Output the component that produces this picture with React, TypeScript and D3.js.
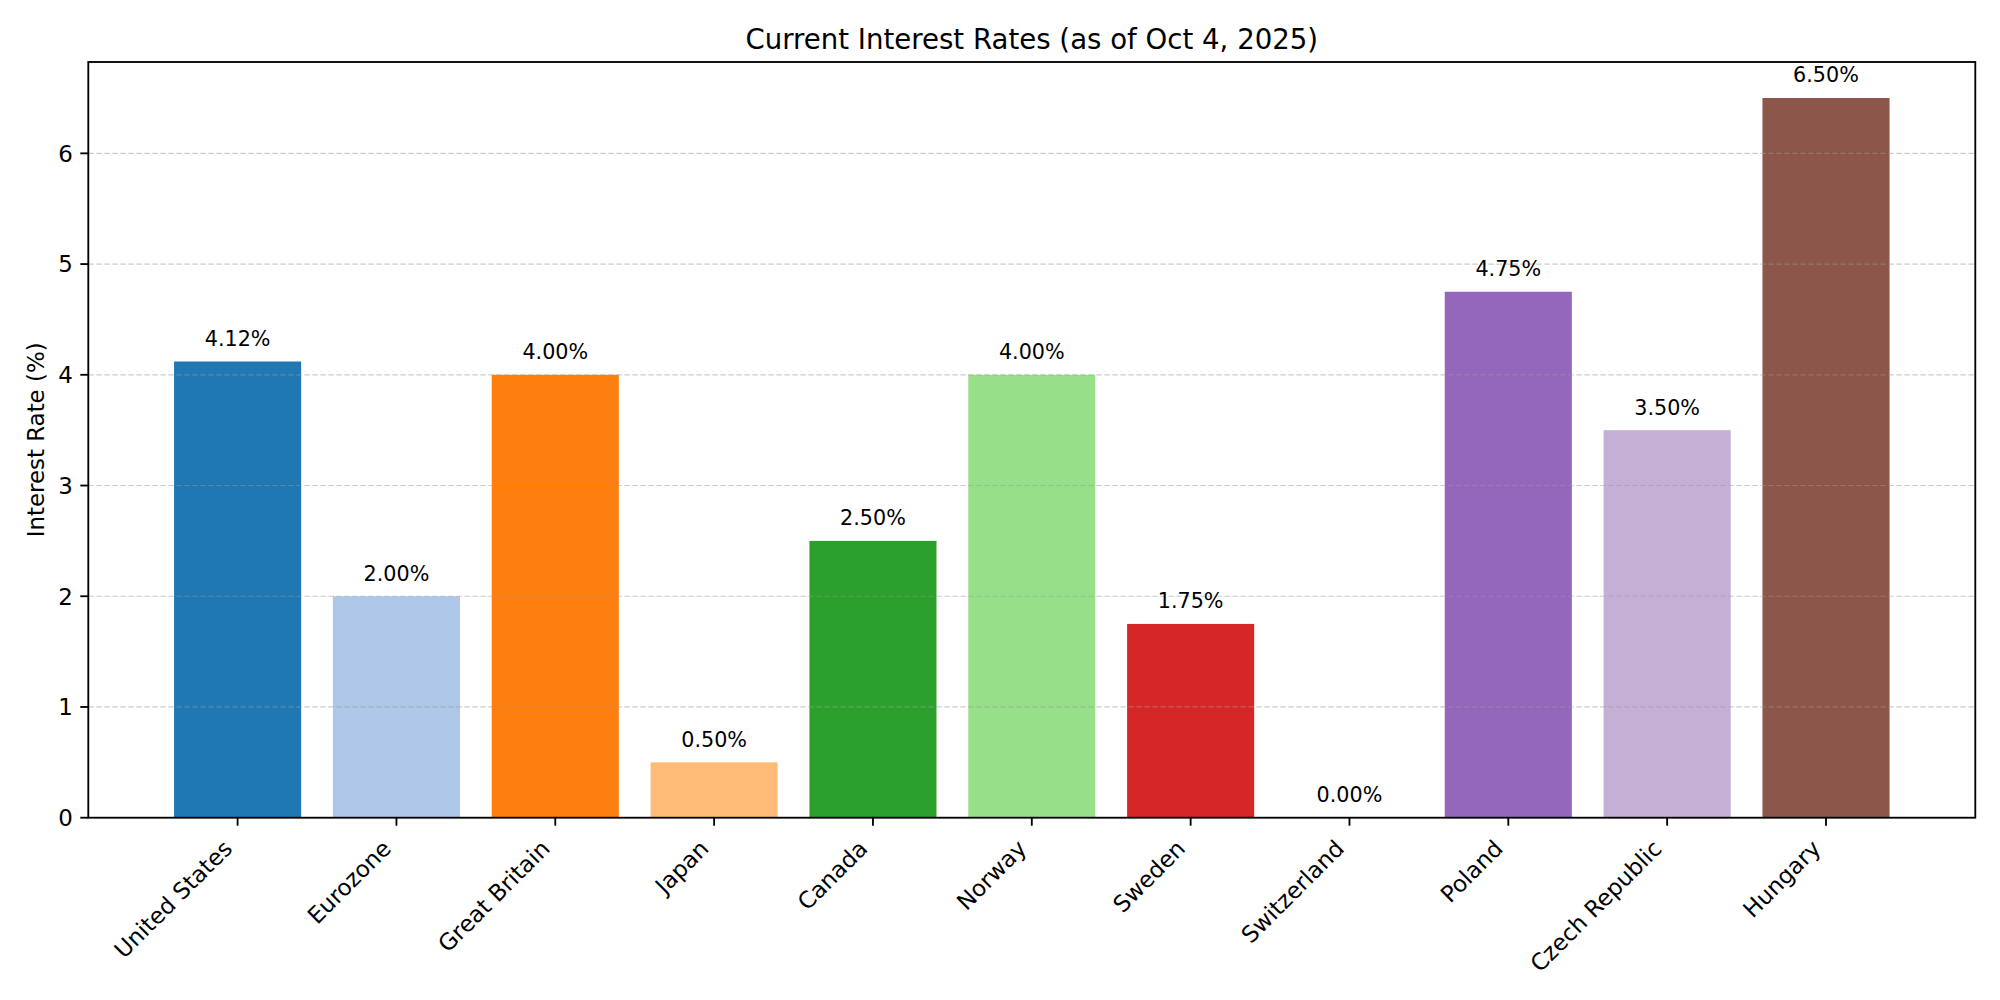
import React from "react";
import * as d3 from "d3";

const countries = [
  "United States", "Eurozone", "Great Britain", "Japan", "Canada", "Norway",
  "Sweden", "Switzerland", "Poland", "Czech Republic", "Hungary",
];
const rates = [4.12, 2.0, 4.0, 0.5, 2.5, 4.0, 1.75, 0.0, 4.75, 3.5, 6.5];
const barColors = [
  "#1f77b4", "#aec7e8", "#ff7f0e", "#ffbb78", "#2ca02c", "#98df8a",
  "#d62728", "#ff9896", "#9467bd", "#c5b0d5", "#8c564b",
];
const yTicks = [0, 1, 2, 3, 4, 5, 6];
const title = "Current Interest Rates (as of Oct 4, 2025)";
const yLabel = "Interest Rate (%)";

const W = 2000, H = 1000;
const L = 88.3, R = 1975.3, T = 62, B = 817.7;
const FONT = "'DejaVu Sans', sans-serif";

export default function App() {
  const n = countries.length;
  const bw = 0.8;
  const span = (n - 1) + bw;
  const margin = span * 0.05;
  const x = d3.scaleLinear().domain([-bw / 2 - margin, n - 1 + bw / 2 + margin]).range([L, R]);
  const yMax = (d3.max(rates) as number) * 1.05;
  const y = d3.scaleLinear().domain([0, yMax]).range([B, T]);
  const lw = 1.84;
  const tickLen = 8;

  return (
    <svg width={W} height={H} style={{ position: "absolute", left: 0, top: 0, background: "#fff" }}
      fontFamily={FONT}>
      <rect x={0} y={0} width={W} height={H} fill="#fff" />
      {/* bars */}
      {rates.map((v, i) => (
        <rect key={"b" + i} x={x(i - bw / 2)} y={y(v)} width={x(i + bw / 2) - x(i - bw / 2)}
          height={y(0) - y(v)} fill={barColors[i]} />
      ))}
      {/* grid */}
      {yTicks.map((t) => (
        <line key={"g" + t} x1={L} x2={R} y1={y(t)} y2={y(t)} stroke="#999" strokeOpacity={0.5}
          strokeWidth={1.2} strokeDasharray="5.5,2.5" />
      ))}
      {/* bar labels */}
      {rates.map((v, i) => (
        <text key={"l" + i} x={x(i)} y={y(v + 0.1) - 4.5} textAnchor="middle" fontSize={20.7} fill="#000">
          {v.toFixed(2) + "%"}
        </text>
      ))}
      {/* y ticks */}
      {yTicks.map((t) => (
        <g key={"yt" + t}>
          <line x1={L - tickLen} x2={L} y1={y(t)} y2={y(t)} stroke="#000" strokeWidth={lw} />
          <text x={L - tickLen - 7.5} y={y(t) + 8.35} textAnchor="end" fontSize={22.9} fill="#000">
            {String(t)}
          </text>
        </g>
      ))}
      {/* x ticks */}
      {countries.map((c, i) => (
        <g key={"xt" + i}>
          <line x1={x(i)} x2={x(i)} y1={B} y2={B + tickLen} stroke="#000" strokeWidth={lw} />
          <text transform={`translate(${x(i) - 4},${850}) rotate(-45)`} textAnchor="end" fontSize={22.9} fill="#000">
            {c}
          </text>
        </g>
      ))}
      {/* frame */}
      <rect x={L} y={T} width={R - L} height={B - T} fill="none" stroke="#000" strokeWidth={lw} />
      {/* title */}
      <text x={(L + R) / 2} y={49} textAnchor="middle" fontSize={27.6} fill="#000">{title}</text>
      {/* y label */}
      <text transform={`translate(43.5,${(T + B) / 2}) rotate(-90)`} textAnchor="middle" fontSize={22.9} fill="#000">
        {yLabel}
      </text>
    </svg>
  );
}
